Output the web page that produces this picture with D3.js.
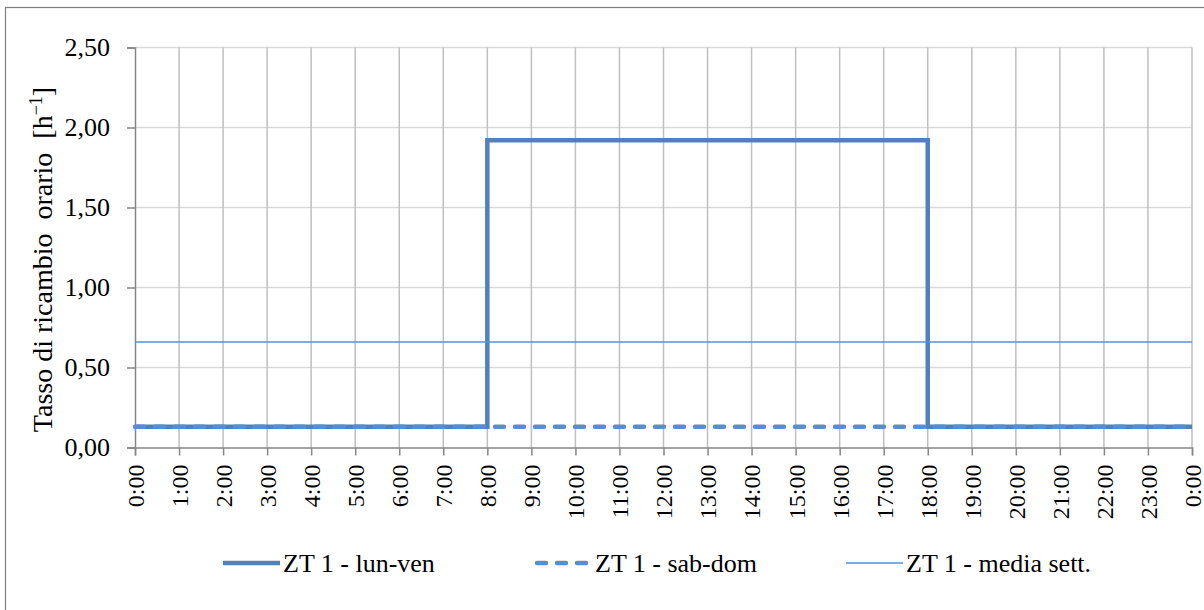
<!DOCTYPE html>
<html>
<head>
<meta charset="utf-8">
<script src="https://cdn.jsdelivr.net/npm/d3@7"></script>
<style>
  html, body { margin: 0; padding: 0; background: #ffffff; }
  svg { display: block; }
  svg text { font-family: "Liberation Serif", "Times New Roman", Times, "DejaVu Serif", serif !important; }
  .axis-title { white-space: pre; }
</style>
</head>
<body>
<svg id="chart" width="1204" height="610"></svg>
<script>
// Hourly ventilation rate for zone ZT 1 (values at each hour, 0:00 .. 24:00)
const hours = d3.range(0, 25);
const hourLabels = hours.map(h => (h % 24) + ":00");
const lunVen = [0.13,0.13,0.13,0.13,0.13,0.13,0.13,0.13,1.92,1.92,1.92,1.92,1.92,1.92,1.92,1.92,1.92,1.92,0.13,0.13,0.13,0.13,0.13,0.13,0.13];
const sabDom = [0.13,0.13,0.13,0.13,0.13,0.13,0.13,0.13,0.13,0.13,0.13,0.13,0.13,0.13,0.13,0.13,0.13,0.13,0.13,0.13,0.13,0.13,0.13,0.13,0.13];
const mediaSett = [0.66,0.66,0.66,0.66,0.66,0.66,0.66,0.66,0.66,0.66,0.66,0.66,0.66,0.66,0.66,0.66,0.66,0.66,0.66,0.66,0.66,0.66,0.66,0.66,0.66];
const yTicks = [0, 0.5, 1.0, 1.5, 2.0, 2.5];
const seriesNames = ["ZT 1 - lun-ven", "ZT 1 - sab-dom", "ZT 1 - media sett."];

const svg = d3.select("#chart");
const margin = { left: 135, right: 12, top: 47.5, bottom: 162.5 };
const W = 1204, H = 610;

// outer chart frame
svg.append("rect")
  .attr("x", 5.5).attr("y", 7.5)
  .attr("width", W + 10).attr("height", H + 10)
  .attr("fill", "none").attr("stroke", "#7f7f7f").attr("stroke-width", 1.2);

const x = d3.scaleLinear().domain([0, 24]).range([margin.left, W - margin.right]);
const y = d3.scaleLinear().domain([0, 2.5]).range([H - margin.bottom, margin.top]);

const fmt = v => d3.format(".2f")(v).replace(".", ",");

// horizontal gridlines
svg.append("g").selectAll("line").data(yTicks.filter(t => t > 0)).join("line")
  .attr("x1", x(0)).attr("x2", x(24))
  .attr("y1", d => y(d)).attr("y2", d => y(d))
  .attr("stroke", "#d9d9d9").attr("stroke-width", 1.5);

// vertical gridlines
svg.append("g").selectAll("line").data(hours.filter(h => h > 0)).join("line")
  .attr("x1", d => x(d)).attr("x2", d => x(d))
  .attr("y1", y(2.5)).attr("y2", y(0))
  .attr("stroke", "#bfbfbf").attr("stroke-width", 1.5);

// y axis
const yAxis = svg.append("g")
  .attr("transform", `translate(${x(0)},0)`)
  .call(d3.axisLeft(y).tickValues(yTicks).tickFormat(fmt).tickSize(8).tickPadding(17));
yAxis.select(".domain").attr("stroke", "#868686").attr("stroke-width", 1.5);
yAxis.selectAll(".tick line").attr("stroke", "#868686").attr("stroke-width", 1.5);
yAxis.selectAll(".tick text")
  .attr("font-size", 26).attr("fill", "#000");

// x axis
const xAxis = svg.append("g")
  .attr("transform", `translate(0,${y(0)})`)
  .call(d3.axisBottom(x).tickValues(hours).tickFormat((d, i) => hourLabels[i]).tickSize(8));
xAxis.select(".domain").attr("stroke", "#868686").attr("stroke-width", 1.5);
xAxis.selectAll(".tick line").attr("stroke", "#868686").attr("stroke-width", 1.5);
xAxis.selectAll(".tick text")
  .attr("font-size", 24).attr("fill", "#000")
  .attr("text-anchor", "end")
  .attr("transform", "rotate(-90)")
  .attr("x", -17).attr("y", 0).attr("dy", "0.35em");

// y axis title
const title = svg.append("text")
  .attr("class", "axis-title")
  .attr("transform", `translate(52,${(y(0) + y(2.5)) / 2 + 12}) rotate(-90)`)
  .attr("text-anchor", "middle")
  .attr("font-size", 28).attr("fill", "#000");
title.append("tspan").text("Tasso di ricambio  orario  [h");
title.append("tspan").attr("dy", -10).attr("font-size", 18).text("\u22121");
title.append("tspan").attr("dy", 10).text("]");

// series lines
const line = d3.line().x((d, i) => x(hours[i])).y(d => y(d)).curve(d3.curveStepAfter);

svg.append("path").datum(lunVen).attr("d", line)
  .attr("fill", "none").attr("stroke", "#4f81bd").attr("stroke-width", 4.5);
svg.append("path").datum(sabDom).attr("d", line)
  .attr("fill", "none").attr("stroke", "#558ed5").attr("stroke-width", 4.5)
  .attr("stroke-dasharray", "9,11").attr("stroke-linecap", "round");
svg.append("path").datum(mediaSett).attr("d", line)
  .attr("fill", "none").attr("stroke", "#5b8fd6").attr("stroke-width", 1.5);

// legend
const legendY = 563;
const legendItems = [
  { name: seriesNames[0], x0: 223, stroke: "#4f81bd", width: 4.5, dash: null },
  { name: seriesNames[1], x0: 535, stroke: "#558ed5", width: 4.5, dash: "9,11" },
  { name: seriesNames[2], x0: 846, stroke: "#5b8fd6", width: 1.5, dash: null }
];
const lg = svg.append("g").selectAll("g").data(legendItems).join("g");
lg.append("line")
  .attr("x1", d => d.x0 + (d.dash ? 2 : 0)).attr("x2", d => d.x0 + (d.dash ? 55 : 57))
  .attr("y1", legendY).attr("y2", legendY)
  .attr("stroke", d => d.stroke).attr("stroke-width", d => d.width)
  .attr("stroke-dasharray", d => d.dash).attr("stroke-linecap", d => d.dash ? "round" : "butt");
lg.append("text")
  .attr("x", d => d.x0 + 60).attr("y", legendY).attr("dy", "0.35em")
  .attr("font-size", 26).attr("fill", "#000")
  .text(d => d.name);
</script>
</body>
</html>
